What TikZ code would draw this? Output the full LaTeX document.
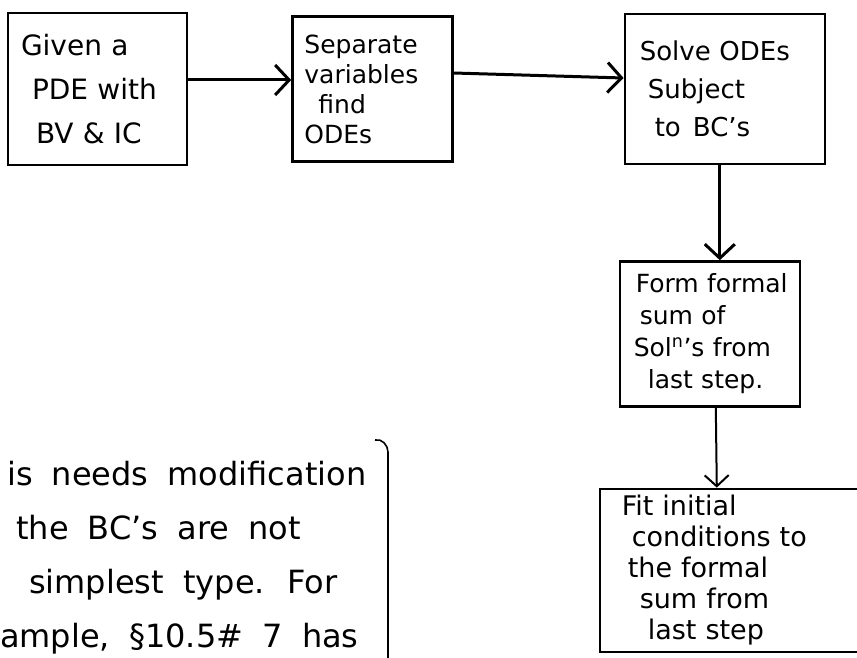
\documentclass[tikz,border=0pt]{standalone}
\usepackage{fontspec}
\setmainfont{DejaVu Sans}
\usetikzlibrary{arrows.meta,positioning}
\tikzset{
  handbox/.style={draw=black,line width=2.4pt,align=left,inner xsep=13pt,inner ysep=6pt},
  notetext/.style={align=left,inner sep=0pt,font={\fontsize{32}{54}\selectfont\spaceskip=.6em\relax}},
  flow/.style={-{Straight Barb[length=14pt,width=30pt]},line width=3pt},
  thinflow/.style={-{Straight Barb[length=11pt,width=24pt]},line width=2pt},
  bracketline/.style={line width=1.6pt},
}

\begin{document}
\begin{tikzpicture}[x=1pt,y=-1pt,node distance=100pt]
  \useasboundingbox (0,0) rectangle (857,658);
  \clip (0,0) rectangle (857,658);
  % top row
  \node[handbox,text width=153pt,minimum height=152pt,font=\fontsize{28}{44}\selectfont] (given) at (97.5,89)
    {Given a\\\hspace*{11pt}PDE with\\\hspace*{15pt}BV \& IC};
  \node[handbox,inner xsep=12pt,text width=136pt,minimum height=145pt,font=\fontsize{25}{30}\selectfont,right=103pt of given] (separate)
    {Separate\\variables\\\hspace*{14pt}find\\ODEs};
  \node[handbox,inner xsep=15pt,text width=170pt,minimum height=150pt,font={\fontsize{26}{38}\selectfont\spaceskip=.5em\relax},right=170pt of separate] (solve)
    {Solve ODEs\\\hspace*{8pt}Subject\\\hspace*{15pt}to\hspace{12pt}BC's};
  % right column
  \node[handbox,inner xsep=10pt,text width=160pt,minimum height=145pt,font={\fontsize{25}{32}\selectfont\spaceskip=.45em\relax},below=95pt of solve,xshift=-15pt] (form)
    {\hspace*{6pt}Form formal\\\hspace*{10pt}sum of\\\hspace*{4pt}Sol\textsuperscript{n}'s from\\\hspace*{18pt}last step.};
  \node[handbox,inner xsep=22pt,inner ysep=3pt,text width=256pt,minimum height=163pt,font={\fontsize{27}{31}\selectfont\spaceskip=.5em\relax},below=80pt of form,xshift=40pt] (fit)
    {Fit initial\\\hspace*{10pt}conditions to\\\hspace*{6pt}the formal\\\hspace*{18pt}sum from\\\hspace*{26pt}last step};
  \draw[flow] ([yshift=9pt]given.east) -- ([yshift=9pt]separate.west);
  \draw[flow] ([yshift=16pt]separate.east) -- ([yshift=11pt]solve.west);
  \draw[flow] ([xshift=-5pt]solve.south) -- ([xshift=10pt]form.north);
  \draw[thinflow] ([xshift=6pt]form.south) -- ([xshift=-33pt]fit.north);
  % side note
  \node[notetext,anchor=west] (note) at (7,558)
    {is needs modification\\\hspace*{9pt}the BC's are not\\\hspace*{22pt}simplest type. For\\\hspace*{-7pt}ample, §10.5\# 7 has};
  \draw[bracketline] (375,440) to[out=15,in=90] (388,452) -- (388,660);
\end{tikzpicture}
\end{document}
